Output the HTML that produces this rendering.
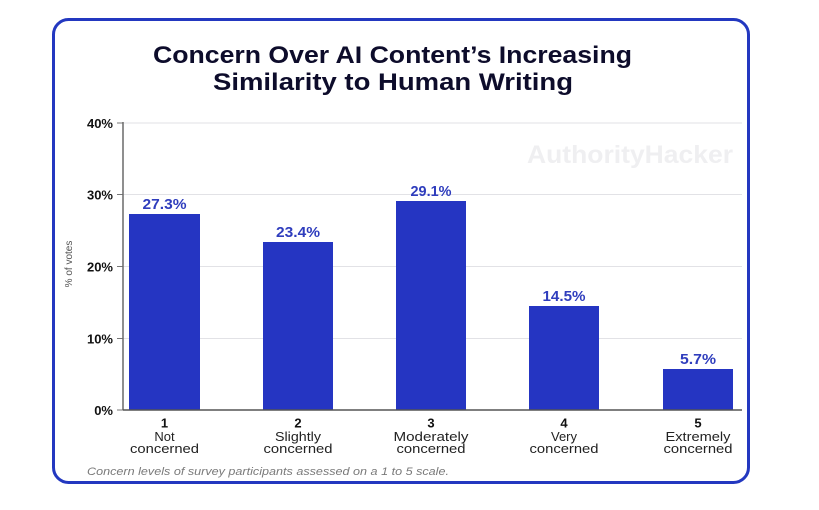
<!DOCTYPE html>
<html><head><meta charset="utf-8"><style>
html,body{margin:0;padding:0;background:#fff;width:819px;height:510px;overflow:hidden}
svg{display:block}
text{font-family:"Liberation Sans",sans-serif}
</style></head><body>
<svg width="819" height="510" viewBox="0 0 819 510" xmlns="http://www.w3.org/2000/svg">
<rect x="0" y="0" width="819" height="510" fill="#fff"/>
<rect x="53.5" y="19.5" width="695" height="463" rx="15" ry="15" fill="#fff" stroke="#2338c0" stroke-width="3"/>
<text x="392.5" y="63" text-anchor="middle" font-size="24" font-weight="bold" fill="#0d0c2b" textLength="479" lengthAdjust="spacingAndGlyphs">Concern Over AI Content’s Increasing</text>
<text x="393" y="90" text-anchor="middle" font-size="24" font-weight="bold" fill="#0d0c2b" textLength="360" lengthAdjust="spacingAndGlyphs">Similarity to Human Writing</text>
<text x="630" y="163" text-anchor="middle" font-size="25" font-weight="bold" fill="#efeff1" textLength="206" lengthAdjust="spacingAndGlyphs">AuthorityHacker</text>
<g stroke="#e2e2e6" stroke-width="1">
<line x1="123" y1="123" x2="742" y2="123"/>
<line x1="123" y1="194.5" x2="742" y2="194.5"/>
<line x1="123" y1="266.5" x2="742" y2="266.5"/>
<line x1="123" y1="338.5" x2="742" y2="338.5"/>
</g>
<g stroke="#777" stroke-width="1">
<line x1="117" y1="123" x2="123" y2="123"/>
<line x1="117" y1="194.5" x2="123" y2="194.5"/>
<line x1="117" y1="266.5" x2="123" y2="266.5"/>
<line x1="117" y1="338.5" x2="123" y2="338.5"/>
<line x1="117" y1="410" x2="123" y2="410"/>
</g>
<line x1="123" y1="122" x2="123" y2="410" stroke="#6a6a6a" stroke-width="1.5"/>
<g font-size="13" font-weight="bold" fill="#111" text-anchor="end">
<text x="113" y="128">40%</text>
<text x="113" y="199.5">30%</text>
<text x="113" y="271.5">20%</text>
<text x="113" y="343.5">10%</text>
<text x="113" y="415">0%</text>
</g>
<text transform="translate(72,264) rotate(-90)" text-anchor="middle" font-size="10" fill="#555">% of votes</text>
<g fill="#2535c2">
<rect x="129" y="214" width="71" height="196"/>
<rect x="263" y="242" width="70" height="168"/>
<rect x="396" y="201" width="70" height="209"/>
<rect x="529" y="306" width="70" height="104"/>
<rect x="663" y="369" width="70" height="41"/>
</g>
<line x1="123" y1="410" x2="742" y2="410" stroke="#555" stroke-width="1.5"/>
<g font-size="14.5" font-weight="bold" fill="#2f3dbd" text-anchor="middle">
<text x="164.5" y="209" textLength="44" lengthAdjust="spacingAndGlyphs">27.3%</text>
<text x="298" y="237" textLength="44" lengthAdjust="spacingAndGlyphs">23.4%</text>
<text x="431" y="196" textLength="41" lengthAdjust="spacingAndGlyphs">29.1%</text>
<text x="564" y="301" textLength="43" lengthAdjust="spacingAndGlyphs">14.5%</text>
<text x="698" y="364" textLength="36" lengthAdjust="spacingAndGlyphs">5.7%</text>
</g>
<g font-size="13" font-weight="bold" fill="#111" text-anchor="middle">
<text x="164.5" y="427.5">1</text>
<text x="298" y="427.5">2</text>
<text x="431" y="427.5">3</text>
<text x="564" y="427.5">4</text>
<text x="698" y="427.5">5</text>
</g>
<g font-size="13" fill="#222" text-anchor="middle">
<text x="164.5" y="441">Not</text>
<text x="164.5" y="453" textLength="69" lengthAdjust="spacingAndGlyphs">concerned</text>
<text x="298" y="441" textLength="46" lengthAdjust="spacingAndGlyphs">Slightly</text>
<text x="298" y="453" textLength="69" lengthAdjust="spacingAndGlyphs">concerned</text>
<text x="431" y="441" textLength="75" lengthAdjust="spacingAndGlyphs">Moderately</text>
<text x="431" y="453" textLength="69" lengthAdjust="spacingAndGlyphs">concerned</text>
<text x="564" y="441">Very</text>
<text x="564" y="453" textLength="69" lengthAdjust="spacingAndGlyphs">concerned</text>
<text x="698" y="441" textLength="65" lengthAdjust="spacingAndGlyphs">Extremely</text>
<text x="698" y="453" textLength="69" lengthAdjust="spacingAndGlyphs">concerned</text>
</g>
<text x="87" y="475" font-size="11" font-style="italic" fill="#7a7a7a" textLength="362" lengthAdjust="spacingAndGlyphs">Concern levels of survey participants assessed on a 1 to 5 scale.</text>
</svg>
</body></html>
